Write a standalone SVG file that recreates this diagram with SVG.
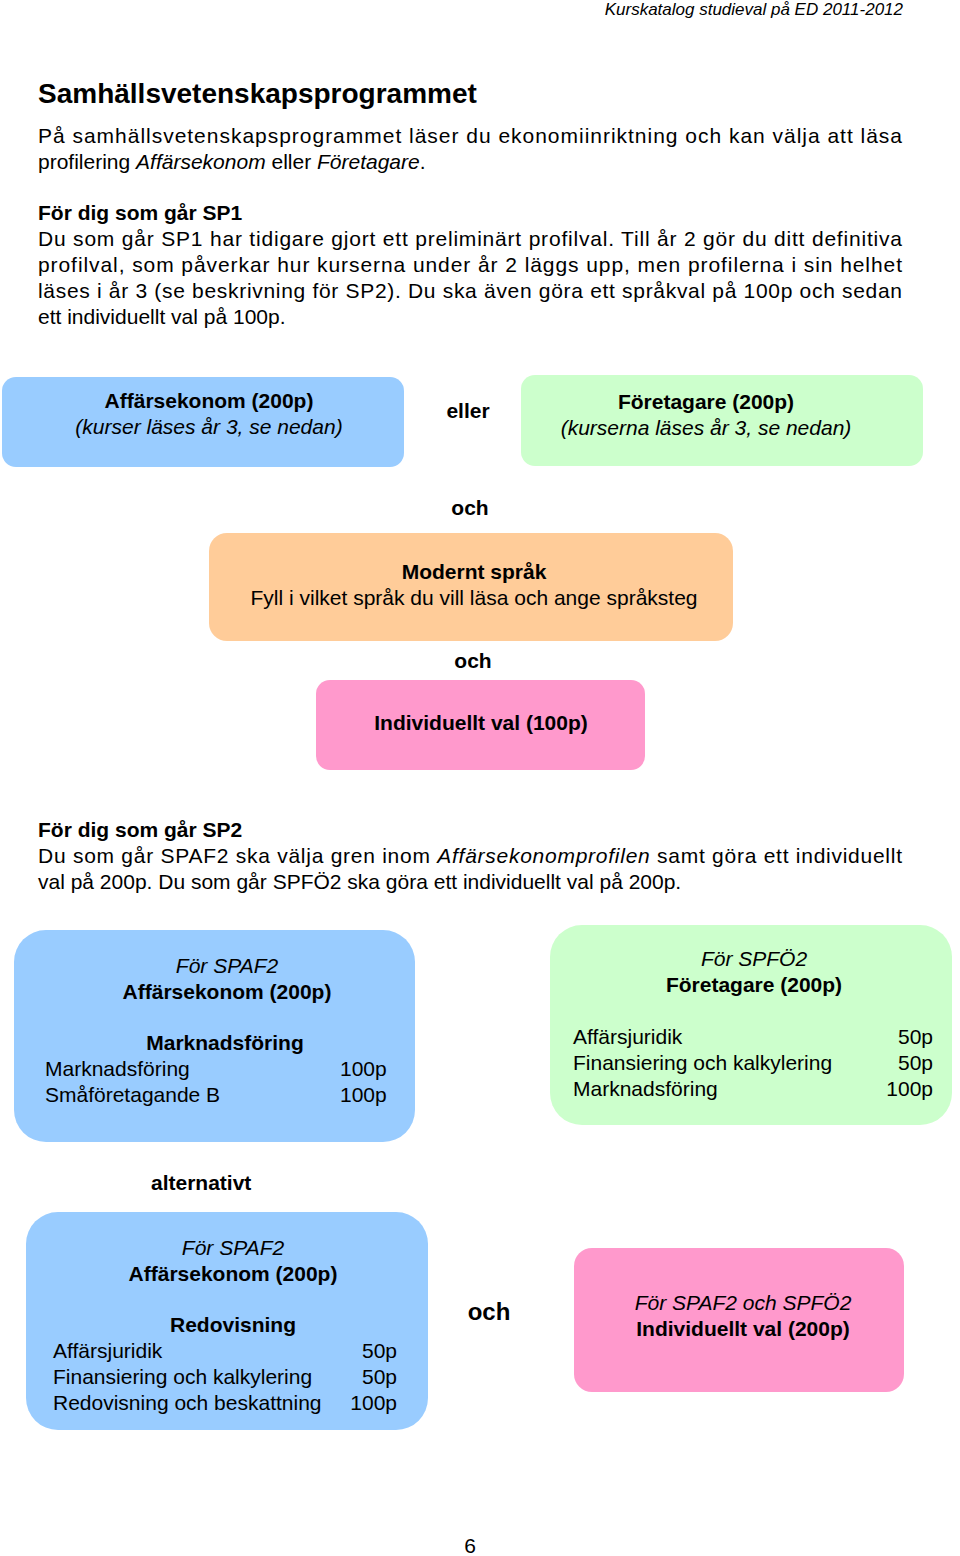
<svg xmlns="http://www.w3.org/2000/svg" width="960" height="1556" viewBox="0 0 960 1556">
<style>
text{font-family:"Liberation Sans",Arial,sans-serif;font-size:21px;fill:#000}
.b{font-weight:bold}.i{font-style:italic}.c{text-anchor:middle}.r{text-anchor:end}
.blue{fill:#99CCFF}.green{fill:#CCFFCC}.orange{fill:#FFCC99}.pink{fill:#FF99CC}
</style>
<rect width="960" height="1556" fill="#fff"/>
<text x="903" y="15" class="i r" style="font-size:17px">Kurskatalog studieval på ED 2011-2012</text>
<text x="38" y="103" class="b" style="font-size:28px">Samhällsvetenskapsprogrammet</text>
<text x="38" y="143" textLength="864" lengthAdjust="spacing">På samhällsvetenskapsprogrammet läser du ekonomiinriktning och kan välja att läsa</text>
<text x="38" y="169">profilering <tspan class="i">Affärsekonom</tspan> eller <tspan class="i">Företagare</tspan>.</text>
<text x="38" y="220" class="b">För dig som går SP1</text>
<text x="38" y="246" textLength="864" lengthAdjust="spacing">Du som går SP1 har tidigare gjort ett preliminärt profilval. Till år 2 gör du ditt definitiva</text>
<text x="38" y="272" textLength="864" lengthAdjust="spacing">profilval, som påverkar hur kurserna under år 2 läggs upp, men profilerna i sin helhet</text>
<text x="38" y="298" textLength="864" lengthAdjust="spacing">läses i år 3 (se beskrivning för SP2). Du ska även göra ett språkval på 100p och sedan</text>
<text x="38" y="324">ett individuellt val på 100p.</text>

<g id="affarsekonom"><rect x="2" y="377" width="402" height="90" rx="14" class="blue"/>
<text x="209" y="408" class="b c">Affärsekonom (200p)</text><text x="209" y="434" class="i c">(kurser läses år 3, se nedan)</text></g>
<text x="468" y="418" class="b c">eller</text>
<g id="foretagare"><rect x="521" y="375" width="402" height="91" rx="14" class="green"/>
<text x="706" y="409" class="b c">Företagare (200p)</text><text x="706" y="435" class="i c">(kurserna läses år 3, se nedan)</text></g>
<text x="470" y="515" class="b c">och</text>
<g id="sprak"><rect x="209" y="533" width="524" height="108" rx="18" class="orange"/>
<text x="474" y="579" class="b c">Modernt språk</text><text x="474" y="605" class="c">Fyll i vilket språk du vill läsa och ange språksteg</text></g>
<text x="473" y="668" class="b c">och</text>
<g id="indval"><rect x="316" y="680" width="329" height="90" rx="14" class="pink"/>
<text x="481" y="730" class="b c">Individuellt val (100p)</text></g>

<text x="38" y="837" class="b">För dig som går SP2</text>
<text x="38" y="863" textLength="864" lengthAdjust="spacing">Du som går SPAF2 ska välja gren inom <tspan class="i">Affärsekonomprofilen</tspan> samt göra ett individuellt</text>
<text x="38" y="889">val på 200p. Du som går SPFÖ2 ska göra ett individuellt val på 200p.</text>

<g id="spaf2a"><rect x="14" y="930" width="401" height="212" rx="32" class="blue"/>
<text x="227" y="973" class="i c">För SPAF2</text><text x="227" y="999" class="b c">Affärsekonom (200p)</text>
<text x="225" y="1050" class="b c">Marknadsföring</text>
<text x="45" y="1076">Marknadsföring</text><text x="340" y="1076">100p</text>
<text x="45" y="1102">Småföretagande B</text><text x="340" y="1102">100p</text></g>
<g id="spfo2"><rect x="550" y="925" width="402" height="200" rx="32" class="green"/>
<text x="754" y="966" class="i c">För SPFÖ2</text><text x="754" y="992" class="b c">Företagare (200p)</text>
<text x="573" y="1044">Affärsjuridik</text><text x="933" y="1044" class="r">50p</text>
<text x="573" y="1070">Finansiering och kalkylering</text><text x="933" y="1070" class="r">50p</text>
<text x="573" y="1096">Marknadsföring</text><text x="933" y="1096" class="r">100p</text></g>
<text x="151" y="1190" class="b">alternativt</text>
<g id="spaf2b"><rect x="26" y="1212" width="402" height="218" rx="32" class="blue"/>
<text x="233" y="1255" class="i c">För SPAF2</text><text x="233" y="1281" class="b c">Affärsekonom (200p)</text>
<text x="233" y="1332" class="b c">Redovisning</text>
<text x="53" y="1358">Affärsjuridik</text><text x="397" y="1358" class="r">50p</text>
<text x="53" y="1384">Finansiering och kalkylering</text><text x="397" y="1384" class="r">50p</text>
<text x="53" y="1410">Redovisning och beskattning</text><text x="397" y="1410" class="r">100p</text></g>
<text x="489" y="1320" class="b c" style="font-size:24px">och</text>
<g id="indval2"><rect x="574" y="1248" width="330" height="144" rx="18" class="pink"/>
<text x="743" y="1310" class="i c">För SPAF2 och SPFÖ2</text><text x="743" y="1336" class="b c">Individuellt val (200p)</text></g>
<text x="470" y="1553" class="c">6</text>
<g id="connectors"/>
</svg>
